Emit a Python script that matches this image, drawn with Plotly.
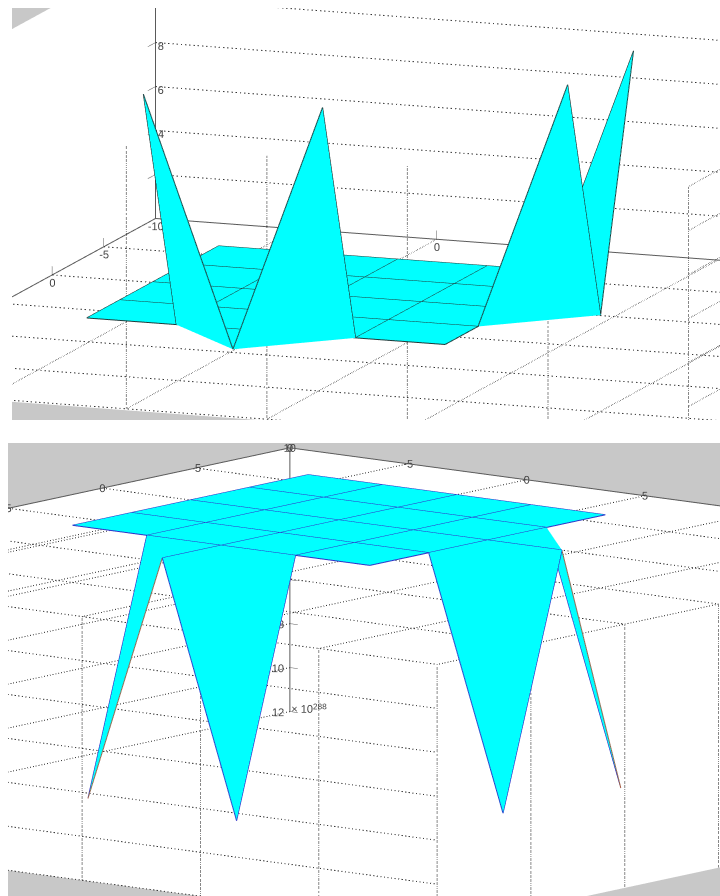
import math
import plotly.graph_objects as go

# ---- data ----
plate_values = [-6.28, -3.14, 0.0, 3.14, 6.28]
outer_value = 9.42
tip_x = [-3.14, 3.14, 9.42, 9.42]
tip_y = [9.42, 9.42, 3.14, -3.14]
tip_z_top = [11.3, 11.3, 11.3, 11.2]
tip_z_bottom = [11.4, 11.5, 11.4, 11.4]
grid_ticks = [-10, -5, 0, 5, 10, 15, 20]
z_ticks = [0, 2, 4, 6, 8, 10, 12]
x_tick_labels = {-5: "-5", 0: "0", 5: "5"}
y_tick_labels = {-5: "-5", 0: "0", 5: "5"}

LO, HI, ZMAX = -10, 20, 12
PAD = 1.0  # the scene ranges reach a little past the box so nothing sits on a clip plane

W, H = 720, 896
DASH = "#333333"
LIGHT = "#484848"
DOTTED = "#111111"
AXIS = "#5a5a5a"
TXT = "#444444"
FONT = "Liberation Sans"
PX_FRACTION = 0.5  # pixels per scene unit, as a share of the scene height


def rad(d):
    return d * math.pi / 180


def camera(t, e, dom, bc):
    """dom = (x0, y0, x1, y1) in pixels; bc = wanted pixel of the box centre."""
    t, e = rad(t), rad(e)
    R = (math.cos(t), math.sin(t), 0)
    U = (-math.sin(t) * math.sin(e), math.cos(t) * math.sin(e), math.cos(e))
    V = (math.sin(t) * math.cos(e), -math.cos(t) * math.cos(e), math.sin(e))
    dcx, dcy = (dom[0] + dom[2]) / 2, (dom[1] + dom[3]) / 2
    dx, du = dcx - bc[0], bc[1] - dcy
    P = PX_FRACTION * (dom[3] - dom[1])
    c = [(dx * R[i] + du * U[i]) / P for i in range(3)]
    eye = [c[i] + 10 * V[i] for i in range(3)]
    return dict(
        projection=dict(type="orthographic"),
        up=dict(x=0, y=0, z=1),
        center=dict(x=c[0], y=c[1], z=c[2]),
        eye=dict(x=eye[0], y=eye[1], z=eye[2]),
    )


def scene_layout(dom, cam, zsign, px_xy, px_z):
    P = PX_FRACTION * (dom[3] - dom[1])
    zr = [-PAD, ZMAX + PAD] if zsign > 0 else [-ZMAX - PAD, PAD]
    bare = dict(visible=True, showbackground=False, showgrid=False, zeroline=False,
                showline=False, showticklabels=False, ticks="", title=dict(text=""),
                showspikes=False, showaxeslabels=False)
    span_xy = HI - LO + 2 * PAD
    span_z = ZMAX + 2 * PAD
    return dict(
        domain=dict(x=[dom[0] / W, dom[2] / W], y=[1 - dom[3] / H, 1 - dom[1] / H]),
        bgcolor="rgba(0,0,0,0)",
        camera=cam,
        aspectmode="manual",
        aspectratio=dict(x=px_xy * span_xy / P, y=px_xy * span_xy / P, z=px_z * span_z / P),
        xaxis=dict(range=[LO - PAD, HI + PAD], **bare),
        yaxis=dict(range=[-HI - PAD, -LO + PAD], **bare),
        zaxis=dict(range=zr, **bare),
        dragmode=False,
    )


def line3d(scene, xs, ys, zs, color, width=1, dash="solid"):
    return go.Scatter3d(scene=scene, x=xs, y=[-v for v in ys], z=zs, mode="lines",
                        line=dict(color=color, width=width, dash=dash),
                        hoverinfo="skip", showlegend=False)


def text3d(scene, xs, ys, zs, labels, pos, size=11):
    return go.Scatter3d(scene=scene, x=xs, y=[-v for v in ys], z=zs, mode="text", text=labels,
                        textposition=pos, textfont=dict(family=FONT, size=size, color=TXT),
                        hoverinfo="skip", showlegend=False)


def walls(scene, zs):
    a, b = LO, HI
    z0, z1 = zs
    X = [a, b, b, a, a, b, b, a]
    Y = [a, a, b, b, a, a, b, b]
    Z = [z0, z0, z0, z0, z1, z1, z1, z1]
    I = [0, 0, 4, 4, 0, 0, 1, 1, 2, 2, 3, 3]
    J = [1, 2, 5, 6, 1, 5, 2, 6, 3, 7, 0, 4]
    Kk = [2, 3, 6, 7, 5, 4, 6, 5, 7, 6, 4, 7]
    return go.Mesh3d(scene=scene, x=X, y=[-v for v in Y], z=Z, i=I, j=J, k=Kk, color="#ffffff",
                     flatshading=True, hoverinfo="skip", showlegend=False,
                     lighting=dict(ambient=1, diffuse=0, specular=0, fresnel=0, roughness=1))


def surface(scene, tips_z, zsign, edge, edge_outer):
    P = plate_values
    X, Y, Z = [], [], []
    idx = {}

    def node(x, y, z=0.0):
        key = (x, y)
        if key not in idx:
            idx[key] = len(X)
            X.append(x)
            Y.append(y)
            Z.append(z * zsign)
        return idx[key]

    I, J, Kk = [], [], []

    def tri(a, b, c):
        I.append(a)
        J.append(b)
        Kk.append(c)

    for i in range(4):
        for j in range(4):
            a = node(P[i], P[j])
            b = node(P[i + 1], P[j])
            c = node(P[i + 1], P[j + 1])
            d = node(P[i], P[j + 1])
            tri(a, b, c)
            tri(a, c, d)
    for x, y, z in zip(tip_x, tip_y, tips_z):
        node(x, y, z)
    mid_front = node(0.0, outer_value)
    mid_right = node(outer_value, 0.0)
    t1, t2, t3, t4 = [idx[(x, y)] for x, y in zip(tip_x, tip_y)]
    n = lambda x, y: idx[(x, y)]
    # front side
    tri(t1, n(-3.14, 6.28), mid_front)
    tri(n(-3.14, 6.28), n(0.0, 6.28), mid_front)
    tri(t2, n(3.14, 6.28), mid_front)
    tri(n(3.14, 6.28), n(0.0, 6.28), mid_front)
    # right side
    tri(t3, n(6.28, 3.14), mid_right)
    tri(n(6.28, 3.14), n(6.28, 0.0), mid_right)
    tri(t4, n(6.28, -3.14), mid_right)
    tri(n(6.28, -3.14), n(6.28, 0.0), mid_right)

    out = [go.Mesh3d(scene=scene, x=X, y=[-v for v in Y], z=Z, i=I, j=J, k=Kk, color="#00ffff",
                     flatshading=True, hoverinfo="skip", showlegend=False,
                     lighting=dict(ambient=1, diffuse=0, specular=0, fresnel=0, roughness=1))]
    # wire
    wx, wy, wz = [], [], []

    def seg(p, q):
        wx.extend([X[p], X[q], None])
        wy.extend([-Y[p], -Y[q], None])
        wz.extend([Z[p], Z[q], None])

    for v in P:
        for s in range(4):
            seg(n(v, P[s]), n(v, P[s + 1]))
            seg(n(P[s], v), n(P[s + 1], v))
    seg(n(-3.14, 6.28), t1)
    seg(mid_front, t2)
    seg(n(3.14, 6.28), t2)
    seg(n(0.0, 6.28), mid_front)
    seg(n(6.28, 3.14), t3)
    seg(mid_right, t3)
    seg(n(6.28, 0.0), mid_right)
    seg(n(6.28, -3.14), t4)
    out.append(go.Scatter3d(scene=scene, x=wx, y=wy, z=wz,
                            mode="lines", line=dict(color=edge, width=2),
                            hoverinfo="skip", showlegend=False))
    ox, oy, oz = [], [], []
    for p, q in ((mid_front, t1), (mid_right, t4)):
        ox.extend([X[p], X[q], None])
        oy.extend([-Y[p], -Y[q], None])
        oz.extend([Z[p], Z[q], None])
    out.append(go.Scatter3d(scene=scene, x=ox, y=oy, z=oz, mode="lines",
                            line=dict(color=edge_outer, width=2),
                            hoverinfo="skip", showlegend=False))
    return out


fig = go.Figure()

# ---------- top panel ----------
dom_top = (12, 8, 720, 420)
cam_top = camera(20.2, 11.6, dom_top, (422, 202.5))
fig.add_trace(walls("scene", (0, ZMAX)))
g = "scene2"
for v in grid_ticks[1:]:
    fig.add_trace(line3d(g, [LO, HI], [v, v], [0, 0], DASH, 2, "dot"))
    fig.add_trace(line3d(g, [v, v], [LO, HI], [0, 0], LIGHT, 2, "dot"))
for z in z_ticks[1:]:
    fig.add_trace(line3d(g, [LO, HI], [LO, LO], [z, z], DASH, 2, "dot"))
    fig.add_trace(line3d(g, [HI, HI], [LO, HI], [z, z], LIGHT, 2, "dot"))
for v in [0, 5, 10, 15, 20]:
    fig.add_trace(line3d(g, [v, v], [HI, HI], [0, ZMAX], DOTTED, 2, "dot"))
fig.add_trace(line3d(g, [LO, HI], [LO, LO], [0, 0], AXIS, 2))
fig.add_trace(line3d(g, [LO, LO], [LO, HI], [0, 0], AXIS, 2))
fig.add_trace(line3d(g, [LO, LO], [LO, LO], [0, ZMAX], AXIS, 2))
for v in x_tick_labels:
    fig.add_trace(line3d(g, [v, v], [LO, LO], [0, 0.4], AXIS, 1))
for v in y_tick_labels:
    fig.add_trace(line3d(g, [LO, LO], [v, v], [0, 0.4], AXIS, 1))
for z in z_ticks[1:]:
    fig.add_trace(line3d(g, [LO, LO], [LO, LO + 0.75], [z, z], AXIS, 1))
fig.add_trace(text3d(g, [v + 0.45 for v in x_tick_labels], [LO + 1.2] * 3, [0] * 3,
                     list(x_tick_labels.values()), "middle center"))
fig.add_trace(text3d(g, [LO + 0.45] * 3, [v + 1.2 for v in y_tick_labels], [0] * 3,
                     list(y_tick_labels.values()), "middle center"))
fig.add_trace(text3d(g, [LO + 0.45], [LO + 1.2], [0], ["-10"], "middle center"))
fig.add_trace(text3d(g, [LO] * 6, [LO + 0.8] * 6, [v + 0.05 for v in z_ticks[1:]],
                     [str(v) for v in z_ticks[1:]], "middle right"))
for tr in surface("scene3", tip_z_top, 1, "#1f3a3a", "#1f3a3a"):
    fig.add_trace(tr)

# ---------- bottom panel ----------
dom_bot = (8, 443, 720, 896)
cam_bot = camera(38.4, 9.8, dom_bot, (363.5, 688))
fig.add_trace(walls("scene4", (-ZMAX, 0)))
g = "scene5"
for v in grid_ticks[1:]:
    fig.add_trace(line3d(g, [LO, HI], [v, v], [0, 0], DASH, 2, "dot"))
    fig.add_trace(line3d(g, [v, v], [LO, HI], [0, 0], DASH, 2, "dot"))
for z in z_ticks[1:]:
    fig.add_trace(line3d(g, [LO, HI], [HI, HI], [-z, -z], DASH, 2, "dot"))
    fig.add_trace(line3d(g, [LO, LO], [LO, HI], [-z, -z], DASH, 2, "dot"))
for v in [5, 10, 15, 20]:
    fig.add_trace(line3d(g, [v, v], [HI, HI], [0, -ZMAX], DOTTED, 2, "dot"))
for v in [15, 10, 5]:
    fig.add_trace(line3d(g, [HI, HI], [v, v], [0, -ZMAX], DOTTED, 2, "dot"))
fig.add_trace(line3d(g, [LO, HI], [LO, LO], [0, 0], AXIS, 2))
fig.add_trace(line3d(g, [LO, LO], [LO, HI], [0, 0], AXIS, 2))
fig.add_trace(line3d(g, [LO, LO], [LO, LO], [0, -ZMAX], AXIS, 2))
for z in z_ticks[1:]:
    fig.add_trace(line3d(g, [LO, LO + 0.33], [LO, LO], [-z, -z], AXIS, 1))
fig.add_trace(text3d(g, list(x_tick_labels), [LO] * 3, [0] * 3, list(x_tick_labels.values()), "middle center"))
fig.add_trace(text3d(g, [LO] * 3, list(y_tick_labels), [0] * 3, list(y_tick_labels.values()), "middle center"))
fig.add_trace(text3d(g, [LO, LO], [LO, LO], [0, 0], ["0    ", "   10"], "middle center"))
fig.add_trace(text3d(g, [LO + 0.2] * 6, [LO] * 6, [-v for v in z_ticks[1:]],
                     [str(v) for v in z_ticks[1:]], "middle left"))
fig.add_trace(text3d(g, [LO - 0.37], [LO], [-11.9], ["× 10<sup>288</sup>"], "middle right"))
for tr in surface("scene6", tip_z_bottom, -1, "#3030c8", "#a8583c"):
    fig.add_trace(tr)

top_px = (30.4, 22.45)
top_grid_px = (29.95, 22.45)
bot_px = (30.2, 22.3)
fig.update_layout(
    width=W, height=H, margin=dict(l=0, r=0, t=0, b=0),
    paper_bgcolor="white", showlegend=False,
    scene=dict(scene_layout(dom_top, cam_top, 1, *top_px), bgcolor="#c8c8c8"),
    scene2=scene_layout(dom_top, cam_top, 1, *top_grid_px),
    scene3=scene_layout(dom_top, cam_top, 1, *top_px),
    scene4=dict(scene_layout(dom_bot, cam_bot, -1, *bot_px), bgcolor="#c8c8c8"),
    scene5=scene_layout(dom_bot, cam_bot, -1, *bot_px),
    scene6=scene_layout(dom_bot, cam_bot, -1, *bot_px),
)
fig.write_html("out.html", config=dict(displayModeBar=False),
               post_script="document.body.style.margin='0';document.documentElement.style.overflow='hidden';")
